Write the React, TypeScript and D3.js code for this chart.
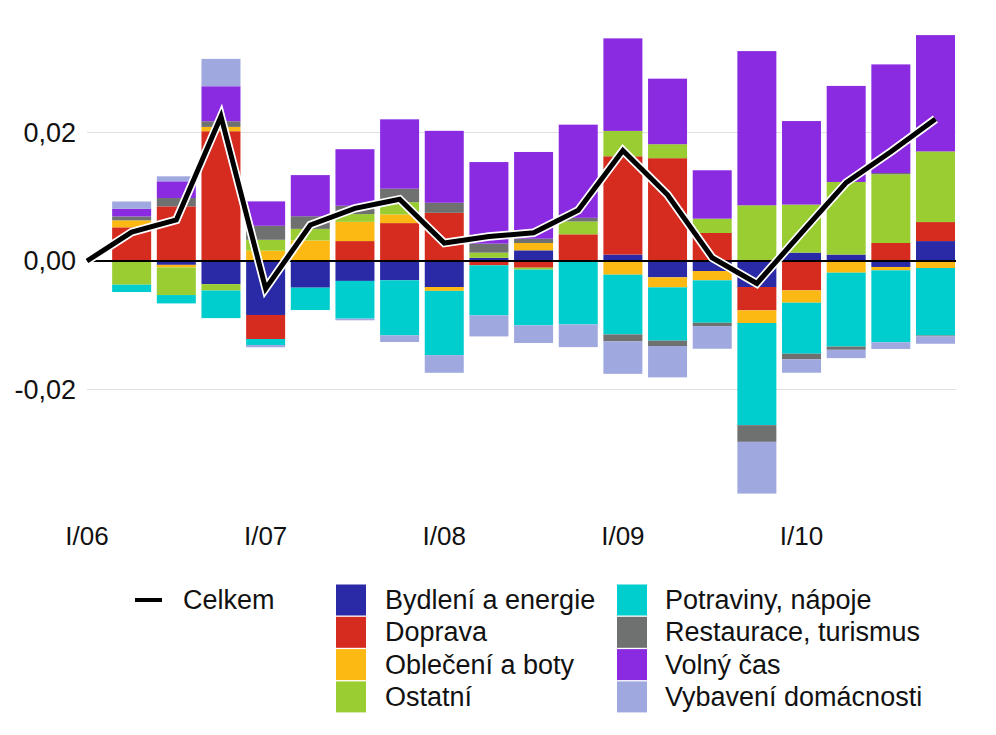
import React from "react";
import * as d3 from "d3";

const quarters = [
  "I/06","II/06","III/06","IV/06",
  "I/07","II/07","III/07","IV/07",
  "I/08","II/08","III/08","IV/08",
  "I/09","II/09","III/09","IV/09",
  "I/10","II/10","III/10","IV/10",
];

// contributions in thousandths (×0.001)
const bydleni =    [0, 0, -0.6, -3.6, -8.4, -4.15, -3.1, -3.0, -4.05, 0.5, 1.66, 0, 1.0, -2.54, -1.56, -4.05, 1.3, 1.0, -0.93, 3.1];
const doprava =    [0, 5.24, 8.5, 20.2, -3.74, 0, 3.1, 5.9, 7.5, -0.67, -1.04, 4.15, 15.3, 16.0, 4.36, -3.63, -4.57, 0, 2.8, 2.96];
const obleceni =   [0, 1.09, -0.4, 0.67, 1.6, 3.2, 3.0, 1.35, -0.6, 0, 1.14, 0, -2.13, -1.56, -1.45, -1.97, -1.92, -1.82, -0.52, -1.09];
const ostatni =    [0, -3.69, -4.3, -0.99, 1.7, 1.8, 1.2, 1.9, 0, 0.8, -0.3, 2.0, 3.95, 2.18, 2.23, 8.67, 7.48, 11.3, 10.7, 11.0];
const potraviny =  [0, -1.14, -1.3, -4.3, -0.93, -3.48, -5.87, -8.57, -10.0, -7.8, -8.67, -9.87, -9.3, -8.3, -6.6, -15.9, -7.94, -11.5, -11.2, -10.5];
const restaurace = [0, 0.6, 1.3, 0.88, 2.18, 1.97, 1.3, 2.1, 1.56, 1.4, 0.67, 0.57, -1.09, -0.83, -0.52, -2.6, -0.88, -0.5, 0.2, -0.15];
const volnyCas =   [0, 1.19, 2.6, 5.45, 3.8, 6.4, 8.8, 10.8, 11.2, 12.7, 13.5, 14.5, 14.4, 10.2, 7.53, 24.0, 13.0, 14.95, 16.9, 18.1];
const vybaveni =   [0, 1.14, 0.78, 4.26, -0.36, 0, -0.26, -1.04, -2.75, -3.27, -2.75, -3.53, -5.04, -4.88, -3.53, -8.05, -2.08, -1.3, -1.04, -1.14];
const celkem =     [0, 4.5, 6.4, 22.5, -4.3, 5.6, 8.2, 9.6, 2.8, 3.8, 4.4, 7.9, 17.2, 10.3, 0.5, -3.5, 4.4, 12.2, 17.0, 22.1];

const seriesNames = [
  "Bydlení a energie",
  "Doprava",
  "Oblečení a boty",
  "Ostatní",
  "Potraviny, nápoje",
  "Restaurace, turismus",
  "Volný čas",
  "Vybavení domácnosti",
];
const seriesValues = [bydleni, doprava, obleceni, ostatni, potraviny, restaurace, volnyCas, vybaveni];
const seriesColors = ["#2a2aa6", "#d62b1f", "#fdb913", "#9acd32", "#00cdcd", "#6e7170", "#8a2be2", "#9fa9df"];

const yTicks = [-0.02, 0, 0.02];
const xTickLabels = ["I/06", "I/07", "I/08", "I/09", "I/10"];

const W = 996;
const H = 735;
const FONT = "'Liberation Sans', Arial, Helvetica, sans-serif";

export default function App() {
  const rows = quarters.map((q, i) => {
    const r: Record<string, any> = { q };
    seriesNames.forEach((n, k) => (r[n] = seriesValues[k][i] / 1000));
    return r;
  });
  const stacked = d3.stack<any>().keys(seriesNames).offset(d3.stackOffsetDiverging)(rows);

  const x = d3.scalePoint<string>().domain(quarters).range([87, 935.5]);
  const y = d3.scaleLinear().domain([-0.04, 0.04]).range([518, 4]);
  const bw = 39;
  const gridX0 = 87;
  const gridX1 = 956;

  const line = d3
    .line<number>()
    .x((_, i) => x(quarters[i]) as number)
    .y((d) => y(d / 1000));
  const linePath = line(celkem) || "";

  const fmt = (v: number) => d3.format(".2f")(v).replace(".", ",").replace("−", "-");

  const legendLeft = seriesNames.slice(0, 4);
  const legendRight = seriesNames.slice(4);
  const rowY = (i: number) => 600 + i * 32.3;

  return (
    <svg width={W} height={H} style={{ position: "absolute", left: 0, top: 0, background: "#fff" }} fontFamily={FONT}>
      {/* grid */}
      {yTicks.filter((t) => t !== 0).map((t) => (
        <line key={t} x1={gridX0} x2={gridX1} y1={y(t)} y2={y(t)} stroke="#e0e0e0" strokeWidth={1} />
      ))}
      {/* y labels */}
      {yTicks.map((t) => (
        <text key={t} x={76} y={y(t)} dy="0.35em" textAnchor="end" fontSize={27} fill="#111">
          {fmt(t)}
        </text>
      ))}
      {/* bars */}
      {stacked.map((s, k) => (
        <g key={s.key} fill={seriesColors[k]}>
          {s.map((d, i) => {
            const y0 = y(d[0]);
            const y1 = y(d[1]);
            const h = Math.abs(y0 - y1);
            if (h < 0.01) return null;
            return (
              <rect
                key={i}
                x={(x(quarters[i]) as number) - bw / 2}
                y={Math.min(y0, y1)}
                width={bw}
                height={h}
              />
            );
          })}
        </g>
      ))}
      {/* zero line */}
      <line x1={gridX0} x2={gridX1} y1={y(0)} y2={y(0)} stroke="#000" strokeWidth={2} />
      {/* total line */}
      <path d={linePath} fill="none" stroke="#fff" strokeWidth={8.5} strokeLinejoin="miter" />
      <path d={linePath} fill="none" stroke="#000" strokeWidth={5} strokeLinejoin="miter" />
      {/* x labels */}
      {xTickLabels.map((l) => (
        <text key={l} x={x(l) as number} y={545} textAnchor="middle" fontSize={26} fill="#111">
          {l}
        </text>
      ))}
      {/* legend */}
      <line x1={135} x2={162} y1={rowY(0)} y2={rowY(0)} stroke="#000" strokeWidth={4} />
      <text x={183} y={rowY(0) + 9} fontSize={27} fill="#111">Celkem</text>
      {legendLeft.map((n, i) => (
        <g key={n}>
          <rect x={336} y={rowY(i) - 15.5} width={30} height={31} fill={seriesColors[i]} />
          <text x={385} y={rowY(i) + 9} fontSize={27} fill="#111">{n}</text>
        </g>
      ))}
      {legendRight.map((n, i) => (
        <g key={n}>
          <rect x={617} y={rowY(i) - 15.5} width={30} height={31} fill={seriesColors[i + 4]} />
          <text x={665} y={rowY(i) + 9} fontSize={27} fill="#111">{n}</text>
        </g>
      ))}
    </svg>
  );
}
